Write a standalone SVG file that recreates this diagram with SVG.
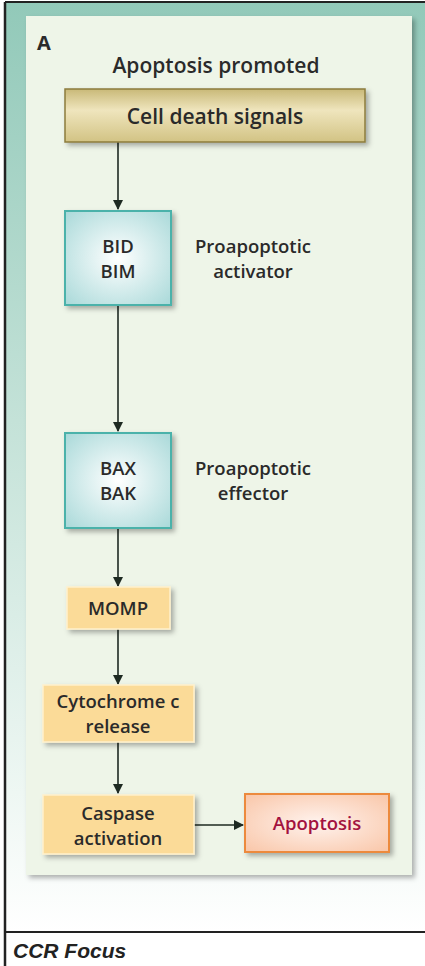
<svg xmlns="http://www.w3.org/2000/svg" width="425" height="966" viewBox="0 0 425 966">
<defs>
  <linearGradient id="bgGrad" x1="0" y1="0" x2="0" y2="1">
    <stop offset="0" stop-color="#92c9b9"/>
    <stop offset="0.45" stop-color="#c4e2d8"/>
    <stop offset="0.85" stop-color="#eef7f3"/>
    <stop offset="1" stop-color="#ffffff"/>
  </linearGradient>
  <linearGradient id="khaki" x1="0" y1="0" x2="0" y2="1">
    <stop offset="0" stop-color="#c9b978"/>
    <stop offset="0.4" stop-color="#efe5bd"/>
    <stop offset="1" stop-color="#d2c384"/>
  </linearGradient>
  <radialGradient id="teal" cx="0.5" cy="0.5" r="0.7">
    <stop offset="0" stop-color="#ffffff"/>
    <stop offset="1" stop-color="#a9d9d9"/>
  </radialGradient>
  <radialGradient id="peach" cx="0.5" cy="0.5" r="0.7">
    <stop offset="0" stop-color="#fff3ee"/>
    <stop offset="1" stop-color="#f9c6a8"/>
  </radialGradient>
  <filter id="shadow" x="-20%" y="-20%" width="150%" height="150%">
    <feDropShadow dx="3" dy="3" stdDeviation="2.5" flood-color="#000" flood-opacity="0.3"/>
  </filter>
  <marker id="arrow" viewBox="0 0 10 10" refX="9" refY="5" markerWidth="10" markerHeight="10" markerUnits="userSpaceOnUse" orient="auto">
    <path d="M0,0 L10,5 L0,10 z" fill="#1e2a22"/>
  </marker>
  <style>
    .t { font-family: "Open Sans", "Liberation Sans", sans-serif; fill: #2a2a2a; font-weight: 600; font-size: 18.5px; text-anchor: middle; }
    .yel { fill: #fbdb98; stroke: #fff1cc; stroke-width: 1.5; filter: url(#shadow); }
    .tealbox { fill: url(#teal); stroke: #4cb2aa; stroke-width: 2; filter: url(#shadow); }
    .conn { stroke: #1e2a22; stroke-width: 1.6; fill: none; marker-end: url(#arrow); }
  </style>
</defs>

<!-- outer frame -->
<rect x="0" y="0" width="425" height="966" fill="#ffffff"/>
<rect x="5" y="3" width="425" height="929" fill="url(#bgGrad)"/>
<line x1="5" y1="2" x2="425" y2="2" stroke="#222" stroke-width="2"/>
<line x1="5" y1="2" x2="5" y2="966" stroke="#222" stroke-width="2.5"/>
<line x1="5" y1="932" x2="425" y2="932" stroke="#222" stroke-width="2"/>
<text x="13" y="958" font-family="Liberation Sans, Arial, sans-serif" font-weight="bold" font-style="italic" font-size="21" fill="#222">CCR Focus</text>

<!-- inner panel -->
<rect x="26" y="16" width="386" height="859" fill="#eef5e8" filter="url(#shadow)"/>
<text class="t" x="37" y="50" style="font-size:20px;font-weight:700;text-anchor:start">A</text>
<text class="t" x="216" y="73" style="font-size:21px">Apoptosis promoted</text>

<g id="connectors">
  <line class="conn" x1="118" y1="142" x2="118" y2="209"/>
  <line class="conn" x1="118" y1="305" x2="118" y2="431"/>
  <line class="conn" x1="118" y1="528" x2="118" y2="586"/>
  <line class="conn" x1="118" y1="629" x2="118" y2="684"/>
  <line class="conn" x1="118" y1="742" x2="118" y2="793"/>
  <line class="conn" x1="194" y1="825" x2="243" y2="825"/>
</g>

<g id="cell-death-signals">
  <rect x="65" y="89" width="300" height="53" fill="url(#khaki)" stroke="#8c7c3c" stroke-width="1.5" filter="url(#shadow)"/>
  <text class="t" x="215" y="124" style="font-size:21px">Cell death signals</text>
</g>

<g id="bid-bim">
  <rect class="tealbox" x="65" y="211" width="106" height="94"/>
  <text class="t" x="118" y="253">BID</text>
  <text class="t" x="118" y="278">BIM</text>
</g>
<g id="activator-label">
  <text class="t" x="253" y="253">Proapoptotic</text>
  <text class="t" x="253" y="278">activator</text>
</g>

<g id="bax-bak">
  <rect class="tealbox" x="65" y="433" width="106" height="95"/>
  <text class="t" x="118" y="475">BAX</text>
  <text class="t" x="118" y="500">BAK</text>
</g>
<g id="effector-label">
  <text class="t" x="253" y="475">Proapoptotic</text>
  <text class="t" x="253" y="500">effector</text>
</g>

<g id="momp">
  <rect class="yel" x="67" y="587" width="103" height="42"/>
  <text class="t" x="118" y="615">MOMP</text>
</g>

<g id="cytochrome">
  <rect class="yel" x="43" y="685" width="151" height="57"/>
  <text class="t" x="118" y="708">Cytochrome c</text>
  <text class="t" x="118" y="733">release</text>
</g>

<g id="caspase">
  <rect class="yel" x="43" y="795" width="151" height="59"/>
  <text class="t" x="118" y="820">Caspase</text>
  <text class="t" x="118" y="845">activation</text>
</g>

<g id="apoptosis">
  <rect x="245" y="794" width="144" height="58" fill="url(#peach)" stroke="#ec8a3c" stroke-width="2" filter="url(#shadow)"/>
  <text class="t" x="317" y="830" style="fill:#a3123f">Apoptosis</text>
</g>
</svg>
